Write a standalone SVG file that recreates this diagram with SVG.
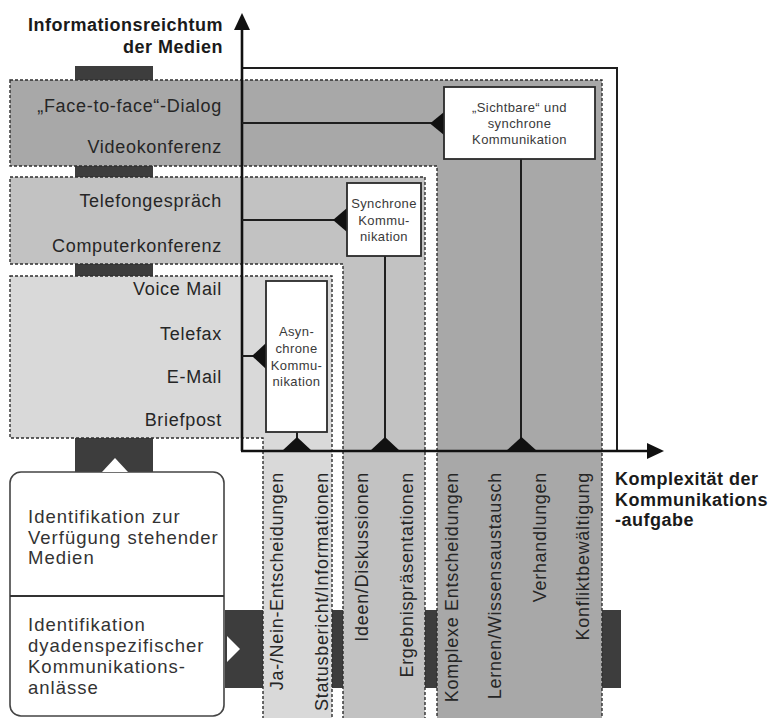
<svg xmlns="http://www.w3.org/2000/svg" width="772" height="718" viewBox="0 0 772 718">
<style>
.lbl{font-family:"Liberation Sans",Arial,sans-serif;font-size:18px;letter-spacing:0.7px;fill:#262626}
.ax{font-family:"Liberation Sans",Arial,sans-serif;font-size:18px;font-weight:bold;letter-spacing:0.5px;fill:#1a1a1a}
.box{font-family:"Liberation Sans",Arial,sans-serif;font-size:13px;letter-spacing:0.4px;fill:#3a3a3a;text-anchor:middle}
.bl{font-family:"Liberation Sans",Arial,sans-serif;font-size:18.5px;letter-spacing:1px;fill:#333}
.zone{stroke:#2e2e2e;stroke-width:1.4;stroke-dasharray:3 2}
.dark{fill:#3d3d3d}
.wbox{fill:#fff;stroke:#2a2a2a;stroke-width:1.8}
.con{stroke:#1e1e1e;stroke-width:2;fill:none}
.tri{fill:#111}
</style>
<rect width="772" height="718" fill="#fff"/>
<g id="bars">
<rect class="dark" x="75" y="66" width="78" height="406"/>
<rect class="dark" x="225" y="610" width="396" height="78"/>
</g>
<g id="zones">
<path id="zone1" class="zone" fill="#a8a8a8" d="M10,80 H602 V722 H437 V166 H10 Z"/>
<path id="zone2" class="zone" fill="#c2c2c2" d="M10,177 H425 V722 H343 V264 H10 Z"/>
<path id="zone3" class="zone" fill="#d9d9d9" d="M10,276 H332 V722 H263 V438 H10 Z"/>
</g>
<g id="axes">
<path class="con" d="M242,68 H617 V451" stroke-width="2.2"/>
<line x1="242" y1="28" x2="242" y2="451" stroke="#111" stroke-width="2.6"/>
<polygon points="242,13 234,30 250,30" fill="#111"/>
<line x1="241" y1="451" x2="650" y2="451" stroke="#111" stroke-width="2.6"/>
<polygon points="664,451 647,443 647,459" fill="#111"/>
<text class="ax" x="223" y="31" text-anchor="end">Informationsreichtum</text>
<text class="ax" x="223" y="52.5" text-anchor="end">der Medien</text>
<text class="ax" x="615" y="485">Komplexität der</text>
<text class="ax" x="615" y="506">Kommunikations</text>
<text class="ax" x="615" y="526">-aufgabe</text>
</g>
<g id="media">
<text class="lbl" x="222" y="111.5" text-anchor="end">„Face-to-face“-Dialog</text>
<text class="lbl" x="222" y="152.5" text-anchor="end">Videokonferenz</text>
<text class="lbl" x="222" y="206.5" text-anchor="end">Telefongespräch</text>
<text class="lbl" x="222" y="251.5" text-anchor="end">Computerkonferenz</text>
<text class="lbl" x="222" y="295" text-anchor="end">Voice Mail</text>
<text class="lbl" x="222" y="340" text-anchor="end">Telefax</text>
<text class="lbl" x="222" y="383" text-anchor="end">E-Mail</text>
<text class="lbl" x="222" y="426" text-anchor="end">Briefpost</text>
</g>
<g id="tasks">
<text class="lbl" transform="translate(283,472) rotate(-90)" text-anchor="end">Ja-/Nein-Entscheidungen</text>
<text class="lbl" transform="translate(328,472) rotate(-90)" text-anchor="end">Statusbericht/Informationen</text>
<text class="lbl" transform="translate(368,472) rotate(-90)" text-anchor="end">Ideen/Diskussionen</text>
<text class="lbl" transform="translate(413,472) rotate(-90)" text-anchor="end">Ergebnispräsentationen</text>
<text class="lbl" transform="translate(458,472) rotate(-90)" text-anchor="end">Komplexe Entscheidungen</text>
<text class="lbl" transform="translate(501,472) rotate(-90)" text-anchor="end">Lernen/Wissensaustausch</text>
<text class="lbl" transform="translate(546,472) rotate(-90)" text-anchor="end">Verhandlungen</text>
<text class="lbl" transform="translate(589,472) rotate(-90)" text-anchor="end">Konfliktbewältigung</text>
</g>
<g id="connectors">
<line class="con" x1="242" y1="123" x2="432" y2="123" stroke-width="1.6"/>
<line class="con" x1="242" y1="220" x2="335" y2="220" stroke-width="1.6"/>
<line class="con" x1="242" y1="356" x2="254" y2="356" stroke-width="1.6"/>
<line class="con" x1="521" y1="159" x2="521" y2="440" stroke-width="1.6"/>
<line class="con" x1="385" y1="256" x2="385" y2="440" stroke-width="1.6"/>
<line class="con" x1="297" y1="432" x2="297" y2="440" stroke-width="1.6"/>
<polygon class="tri" points="444,112 444,135 430,123.5"/>
<polygon class="tri" points="347,208 347,232 333,220"/>
<polygon class="tri" points="266,343 266,369 252,356"/>
<polygon class="tri" points="282,451 312,451 297,437"/>
<polygon class="tri" points="370,451 400,451 385,437"/>
<polygon class="tri" points="506,451 537,451 521.5,437"/>
</g>
<g id="sichtbar">
<rect class="wbox" x="444" y="87" width="151" height="72"/>
<text class="box" x="519.5" y="112">„Sichtbare“ und</text>
<text class="box" x="519.5" y="128">synchrone</text>
<text class="box" x="519.5" y="144">Kommunikation</text>
</g>
<g id="synchron">
<rect class="wbox" x="347" y="183" width="74" height="73"/>
<text class="box" x="384" y="208">Synchrone</text>
<text class="box" x="384" y="224.5">Kommu-</text>
<text class="box" x="384" y="241">nikation</text>
</g>
<g id="asynchron">
<rect class="wbox" x="266" y="281" width="61" height="151"/>
<text class="box" x="296.5" y="336">Asyn-</text>
<text class="box" x="296.5" y="353">chrone</text>
<text class="box" x="296.5" y="370">Kommu-</text>
<text class="box" x="296.5" y="386">nikation</text>
</g>
<g id="identifikation">
<rect x="10" y="472" width="214" height="244" rx="11" fill="#fff" stroke="#444" stroke-width="1.6"/>
<line x1="10" y1="596" x2="224" y2="596" stroke="#333" stroke-width="1.8"/>
<polygon points="102,472 128,472 115,458" fill="#fff"/>
<polygon points="227,636 227,662 240,649" fill="#fff"/>
<text class="bl" x="28" y="523">Identifikation zur</text>
<text class="bl" x="28" y="543.5">Verfügung stehender</text>
<text class="bl" x="28" y="564">Medien</text>
<text class="bl" x="28" y="631">Identifikation</text>
<text class="bl" x="28" y="652">dyadenspezifischer</text>
<text class="bl" x="28" y="673">Kommunikations-</text>
<text class="bl" x="28" y="693.5">anlässe</text>
</g>
</svg>
